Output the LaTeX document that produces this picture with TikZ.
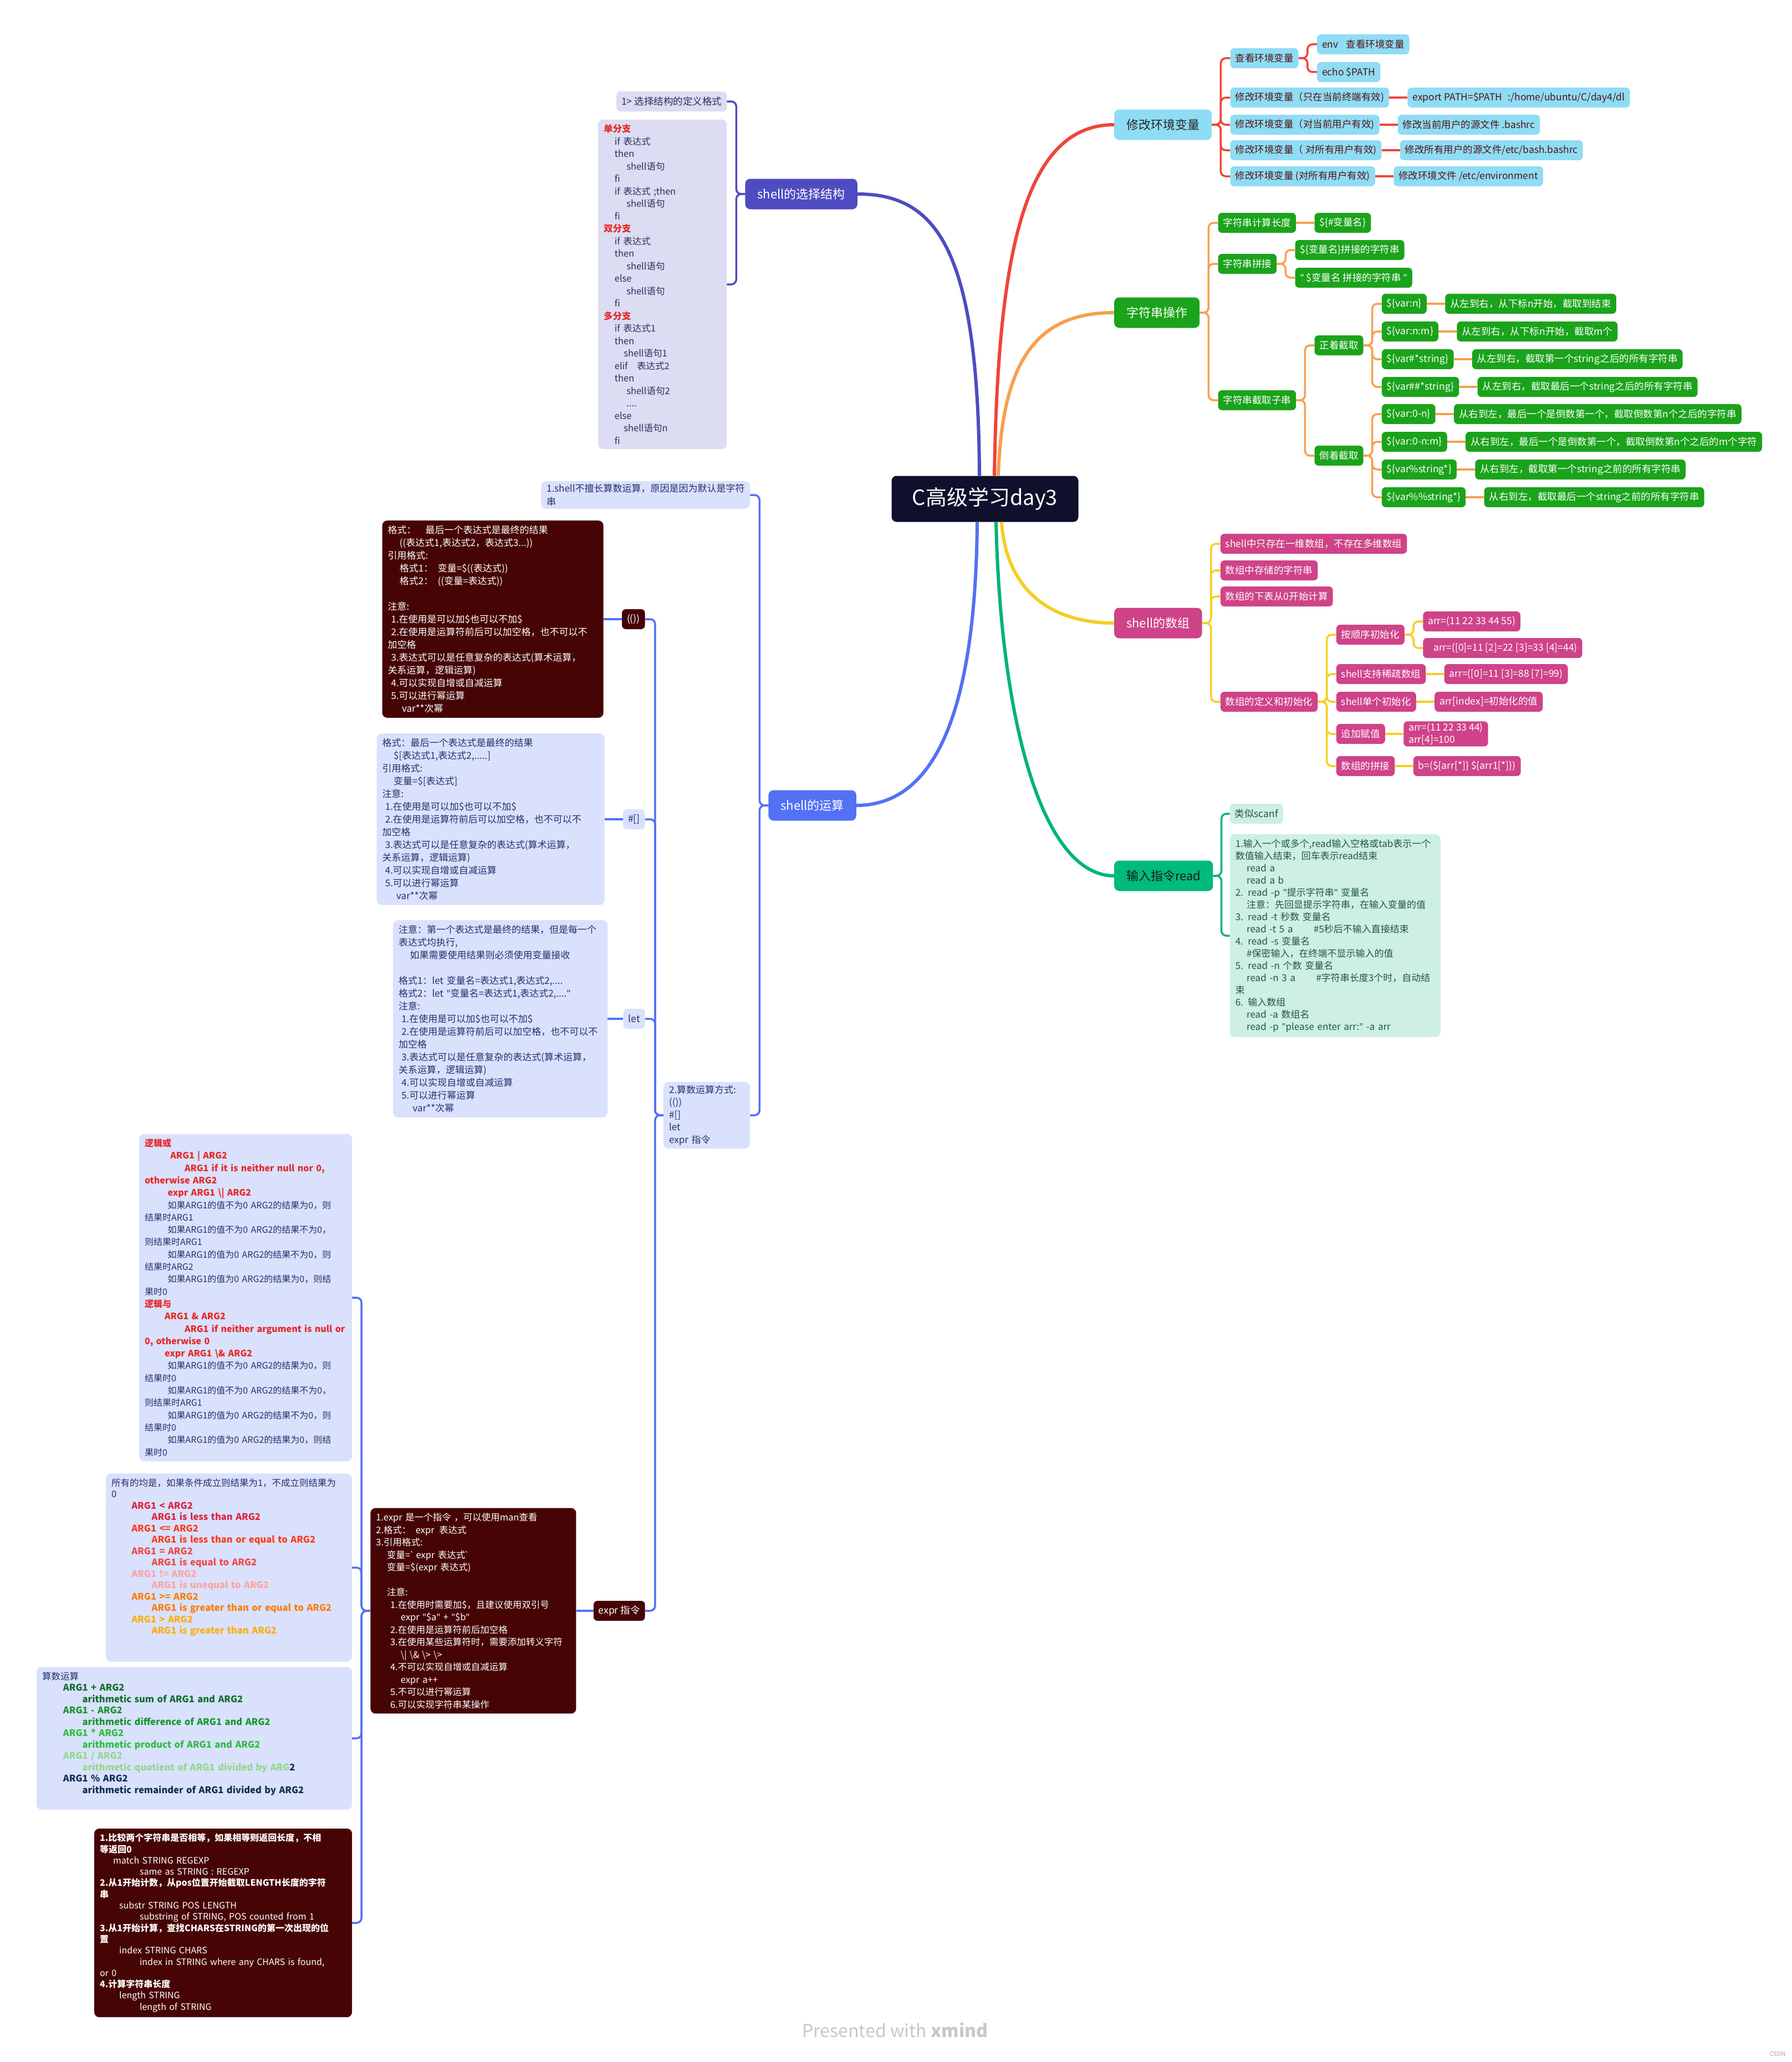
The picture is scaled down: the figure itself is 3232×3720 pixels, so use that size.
\documentclass[tikz,border=0pt]{standalone}
\usepackage{fontspec}
\setmainfont{Noto Sans CJK SC}
\newfontfamily\quotefont{Noto Sans}
\usepackage{xcolor}
\usepackage{tikz}
\usetikzlibrary{positioning}
\definecolor{rootnavy}{RGB}{14,16,44}
\definecolor{envred}{RGB}{240,68,56}
\definecolor{envcyan}{RGB}{143,220,245}
\definecolor{envink}{RGB}{80,20,20}
\definecolor{strorange}{RGB}{247,160,78}
\definecolor{strgreen}{RGB}{27,163,27}
\definecolor{arryellow}{RGB}{245,207,35}
\definecolor{arrpink}{RGB}{207,67,136}
\definecolor{readteal}{RGB}{0,180,118}
\definecolor{readgreen}{RGB}{0,187,122}
\definecolor{readmint}{RGB}{205,240,227}
\definecolor{readink}{RGB}{35,85,68}
\definecolor{selindigo}{RGB}{78,76,192}
\definecolor{sellav}{RGB}{220,220,242}
\definecolor{selink}{RGB}{45,45,95}
\definecolor{calcblue}{RGB}{82,113,245}
\definecolor{calclight}{RGB}{217,225,252}
\definecolor{calcink}{RGB}{38,48,110}
\definecolor{darkmaroon}{RGB}{70,4,4}
\definecolor{hotred}{RGB}{232,38,38}
\definecolor{cmpa}{RGB}{224,34,62}
\definecolor{cmpb}{RGB}{255,58,25}
\definecolor{cmpc}{RGB}{240,72,72}
\definecolor{cmpd}{RGB}{255,162,162}
\definecolor{cmpe}{RGB}{255,122,0}
\definecolor{cmpf}{RGB}{255,172,0}
\definecolor{arga}{RGB}{12,110,40}
\definecolor{argb}{RGB}{22,150,45}
\definecolor{argc}{RGB}{45,190,60}
\definecolor{argd}{RGB}{145,215,140}
\definecolor{arge}{RGB}{18,45,80}
\definecolor{creditgray}{RGB}{200,200,200}
\newcommand{\myind}[1]{\hspace*{#1em}}
\newcommand{\redb}[1]{{\color{hotred}\bfseries #1}}
\newcommand{\cbf}[2]{{\color{#1}\bfseries #2}}
\newcommand{\dq}{{\quotefont"}}
\newcommand{\bq}{{\quotefont\textasciigrave}}
\tikzset{
  rootnode/.style={
    rectangle,
    rounded corners=9pt,
    fill=rootnavy,
    text=white,
    minimum width=337pt,
    minimum height=83pt,
    font=\fontsize{38}{44}\selectfont
  },
  topicbox/.style={
    rectangle,
    rounded corners=9pt,
    minimum height=55pt,
    inner xsep=22pt,
    font=\fontsize{22}{26}\selectfont
  },
  leafbox/.style={
    rectangle,
    rounded corners=7pt,
    align=left,
    minimum height=36pt,
    inner xsep=9pt,
    inner ysep=3pt,
    font=\fontsize{17.5}{22}\selectfont
  },
  notebox/.style={
    rectangle,
    rounded corners=9pt,
    align=left,
    inner xsep=10pt,
    inner ysep=9pt
  },
  envtopic/.style={topicbox, fill=envcyan, text=black!85},
  envleaf/.style={leafbox, fill=envcyan, text=envink},
  strtopic/.style={topicbox, fill=strgreen, text=white},
  strleaf/.style={leafbox, fill=strgreen, text=white},
  arrtopic/.style={topicbox, fill=arrpink, text=white},
  arrleaf/.style={leafbox, fill=arrpink, text=white},
  readtopic/.style={topicbox, fill=readgreen, text=black!90},
  readleaf/.style={leafbox, fill=readmint, text=readink},
  seltopic/.style={topicbox, fill=selindigo, text=white},
  selleaf/.style={leafbox, fill=sellav, text=selink},
  calctopic/.style={topicbox, fill=calcblue, text=white},
  calcleaf/.style={leafbox, fill=calclight, text=calcink},
  calcdarkleaf/.style={leafbox, fill=darkmaroon, text=white},
  trunk/.style={line width=6pt},
  twig/.style={line width=3.5pt, rounded corners=9pt}
}

\begin{document}
\begin{tikzpicture}[x=1pt, y=-1pt, node distance=33pt]
\useasboundingbox (0,0) rectangle (3232,3720);

\node[rootnode] (root) at (1777,900) {C高级学习day3};

% 修改环境变量
\node[envtopic, anchor=west] (env) at (2010,225) {修改环境变量};
\node[envleaf, right=of env, yshift=120pt] (envview) {查看环境变量};
\node[envleaf, right=of envview, yshift=25pt] (envcmd) {env\hspace{14pt}查看环境变量};
\node[envleaf, right=of envview, yshift=-25pt] (envecho) {echo \$PATH};
\node[envleaf, right=of env, yshift=49pt] (envtmp) {修改环境变量（只在当前终端有效)};
\node[envleaf, right=of envtmp] (valtmp) {export PATH=\$PATH\hspace{10pt}:/home/ubuntu/C/day4/dl};
\node[envleaf, right=of env] (envuser) {修改环境变量（对当前用户有效)};
\node[envleaf, right=of envuser] (valuser) {修改当前用户的源文件 .bashrc};
\node[envleaf, right=of env, yshift=-46pt] (envall) {修改环境变量（ 对所有用户有效)};
\node[envleaf, right=of envall] (valall) {修改所有用户的源文件/etc/bash.bashrc};
\node[envleaf, right=of env, yshift=-93pt] (envsys) {修改环境变量 (对所有用户有效)};
\node[envleaf, right=of envsys] (valsys) {修改环境文件 /etc/environment};

\draw[trunk, envred] ([xshift=17pt]root.north) .. controls (1800,450) and (1850,225) .. (env.west);
\foreach \k in {envview,envtmp,envuser,envall,envsys}
  \draw[twig, envred] (env.east) -- ++(16,0) |- (\k.west);
\foreach \k in {envcmd,envecho}
  \draw[twig, envred] (envview.east) -- ++(16,0) |- (\k.west);
\foreach \k in {tmp,user,all,sys}
  \draw[twig, envred] (env\k.east) -- (val\k.west);

% 字符串操作
\node[strtopic, anchor=west] (str) at (2010,564) {字符串操作};
\node[strleaf, right=of str, yshift=162pt] (strlen) {字符串计算长度};
\node[strleaf, right=of strlen] (strlenx) {\$\{\#变量名\}};
\node[strleaf, right=of str, yshift=88pt] (strcat) {字符串拼接};
\node[strleaf, right=of strcat, yshift=25pt] (strcat1) {\$\{变量名\}拼接的字符串};
\node[strleaf, right=of strcat, yshift=-25pt] (strcat2) {\dq{} \$变量名 拼接的字符串 \dq};
\node[strleaf, right=of str, yshift=-158pt] (strsub) {字符串截取子串};
\node[strleaf, right=of strsub, yshift=99pt] (fwd) {正着截取};
\node[strleaf, right=of strsub, yshift=-100pt] (bwd) {倒着截取};
\node[strleaf, right=of fwd, yshift=75pt] (fwd1) {\$\{var:n\}};
\node[strleaf, right=of fwd1] (fwdx1) {从左到右，从下标n开始，截取到结束};
\node[strleaf, right=of fwd, yshift=25pt] (fwd2) {\$\{var:n:m\}};
\node[strleaf, right=of fwd2] (fwdx2) {从左到右，从下标n开始，截取m个};
\node[strleaf, right=of fwd, yshift=-25pt] (fwd3) {\$\{var\#*string\}};
\node[strleaf, right=of fwd3] (fwdx3) {从左到右，截取第一个string之后的所有字符串};
\node[strleaf, right=of fwd, yshift=-75pt] (fwd4) {\$\{var\#\#*string\}};
\node[strleaf, right=of fwd4] (fwdx4) {从左到右，截取最后一个string之后的所有字符串};
\node[strleaf, right=of bwd, yshift=75pt] (bwd1) {\$\{var:0-n\}};
\node[strleaf, right=of bwd1] (bwdx1) {从右到左，最后一个是倒数第一个，截取倒数第n个之后的字符串};
\node[strleaf, right=of bwd, yshift=25pt] (bwd2) {\$\{var:0-n:m\}};
\node[strleaf, right=of bwd2] (bwdx2) {从右到左，最后一个是倒数第一个，截取倒数第n个之后的m个字符};
\node[strleaf, right=of bwd, yshift=-25pt] (bwd3) {\$\{var\%string*\}};
\node[strleaf, right=of bwd3] (bwdx3) {从右到左，截取第一个string之前的所有字符串};
\node[strleaf, right=of bwd, yshift=-75pt] (bwd4) {\$\{var\%\%string*\}};
\node[strleaf, right=of bwd4] (bwdx4) {从右到左，截取最后一个string之前的所有字符串};

\draw[trunk, strorange] ([xshift=24pt]root.north) .. controls (1808,650) and (1870,564) .. (str.west);
\foreach \k in {strlen,strcat,strsub}
  \draw[twig, strorange] (str.east) -- ++(16,0) |- (\k.west);
\draw[twig, strorange] (strlen.east) -- (strlenx.west);
\foreach \k in {strcat1,strcat2}
  \draw[twig, strorange] (strcat.east) -- ++(16,0) |- (\k.west);
\foreach \k in {fwd,bwd}
  \draw[twig, strorange] (strsub.east) -- ++(16,0) |- (\k.west);
\foreach \k in {1,...,4} {
  \draw[twig, strorange] (fwd.east) -- ++(16,0) |- (fwd\k.west);
  \draw[twig, strorange] (fwd\k.east) -- (fwdx\k.west);
  \draw[twig, strorange] (bwd.east) -- ++(16,0) |- (bwd\k.west);
  \draw[twig, strorange] (bwd\k.east) -- (bwdx\k.west);
}

% shell的数组
\node[arrtopic, anchor=west] (arr) at (2010,1124) {shell的数组};
\node[arrleaf, right=of arr, yshift=143pt] (arr1) {shell中只存在一维数组，不存在多维数组};
\node[arrleaf, right=of arr, yshift=95pt] (arr2) {数组中存储的字符串};
\node[arrleaf, right=of arr, yshift=48pt] (arr3) {数组的下表从0开始计算};
\node[arrleaf, right=of arr, yshift=-142pt] (arrdef) {数组的定义和初始化};
\node[arrleaf, right=of arrdef, yshift=121pt] (arrseq) {按顺序初始化};
\node[arrleaf, right=of arrseq, yshift=24pt] (arrseq1) {arr=(11 22 33 44 55)};
\node[arrleaf, right=of arrseq, yshift=-24pt] (arrseq2) {\hspace{10pt}arr=([0]=11 [2]=22 [3]=33 [4]=44)};
\node[arrleaf, right=of arrdef, yshift=50pt] (arrsparse) {shell支持稀疏数组};
\node[arrleaf, right=of arrsparse] (arrsparsex) {arr=([0]=11 [3]=88 [7]=99)};
\node[arrleaf, right=of arrdef] (arrone) {shell单个初始化};
\node[arrleaf, right=of arrone] (arronex) {arr[index]=初始化的值};
\node[arrleaf, right=of arrdef, yshift=-58pt] (arradd) {追加赋值};
\node[arrleaf, right=of arradd] (arraddx) {arr=(11 22 33 44)\\arr[4]=100};
\node[arrleaf, right=of arrdef, yshift=-116pt] (arrjoin) {数组的拼接};
\node[arrleaf, right=of arrjoin] (arrjoinx) {b=(\$\{arr[*]\} \$\{arr1[*]\})};

\draw[trunk, arryellow] ([xshift=30pt]root.south) .. controls (1815,1060) and (1890,1124) .. (arr.west);
\foreach \k in {arr1,arr2,arr3,arrdef}
  \draw[twig, arryellow] (arr.east) -- ++(16,0) |- (\k.west);
\foreach \k in {arrseq,arrsparse,arrone,arradd,arrjoin}
  \draw[twig, arryellow] (arrdef.east) -- ++(16,0) |- (\k.west);
\foreach \k in {arrseq1,arrseq2}
  \draw[twig, arryellow] (arrseq.east) -- ++(16,0) |- (\k.west);
\foreach \k in {arrsparse,arrone,arradd,arrjoin}
  \draw[twig, arryellow] (\k.east) -- (\k x.west);

% 输入指令read
\node[readtopic, anchor=west] (rd) at (2010,1580) {输入指令read};
\node[readleaf, right=30pt of rd, yshift=112pt] (scanf) {类似scanf};
\node[notebox, fill=readmint, text=readink, right=30pt of rd, yshift=-108pt, text width=360pt, font=\fontsize{17}{22}\selectfont] (readbox) {1.输入一个或多个,read输入空格或tab表示一个\\
数值输入结束，回车表示read结束\\
\myind{1.2}read a\\
\myind{1.2}read a b\\
2.\myind{0.5}read -p \dq 提示字符串\dq{} 变量名\\
\myind{1.2}注意：先回显提示字符串，在输入变量的值\\
3.\myind{0.5}read -t 秒数 变量名\\
\myind{1.2}read -t 5 a\myind{2.2}\#5秒后不输入直接结束\\
4.\myind{0.5}read -s 变量名\\
\myind{1.2}\#保密输入，在终端不显示输入的值\\
5.\myind{0.5}read -n 个数 变量名\\
\myind{1.2}read -n 3 a\myind{2.2}\#字符串长度3个时，自动结\\
束\\
6.\myind{0.5}输入数组\\
\myind{1.2}read -a 数组名\\
\myind{1.2}read -p \dq please enter arr:\dq{} -a arr};

\draw[trunk, readteal] ([xshift=20pt]root.south) .. controls (1805,1300) and (1880,1580) .. (rd.west);
\foreach \k in {scanf,readbox}
  \draw[twig, readteal] (rd.east) -- ++(15,0) |- (\k.west);

% shell的选择结构
\node[seltopic, anchor=east] (sel) at (1547,350) {shell的选择结构};
\node[selleaf, left=of sel, yshift=167pt] (seldef) {1> 选择结构的定义格式};
\node[notebox, fill=sellav, text=selink, left=of sel, yshift=-163pt, text width=212pt, font=\fontsize{16.5}{22.5}\selectfont] (selbox) {\redb{单分支}\\
\myind{1.2}if 表达式\\
\myind{1.2}then\\
\myind{2.5}shell语句\\
\myind{1.2}fi\\
\myind{1.2}if 表达式 ;then\\
\myind{2.5}shell语句\\
\myind{1.2}fi\\
\redb{双分支}\\
\myind{1.2}if 表达式\\
\myind{1.2}then\\
\myind{2.5}shell语句\\
\myind{1.2}else\\
\myind{2.5}shell语句\\
\myind{1.2}fi\\
\redb{多分支}\\
\myind{1.2}if 表达式1\\
\myind{1.2}then\\
\myind{2.2}shell语句1\\
\myind{1.2}elif\myind{1}表达式2\\
\myind{1.2}then\\
\myind{2.5}shell语句2\\
\myind{2.5}....\\
\myind{1.2}else\\
\myind{2.2}shell语句n\\
\myind{1.2}fi};

\draw[trunk, selindigo] ([xshift=-10pt]root.north) .. controls (1765,450) and (1690,350) .. (sel.east);
\foreach \k in {seldef,selbox}
  \draw[twig, selindigo] (sel.west) -- ++(-16,0) |- (\k.east);

% shell的运算
\node[calctopic, anchor=east] (calc) at (1545,1453) {shell的运算};
\node[notebox, fill=calclight, text=calcink, left=of calc, yshift=560pt, text width=357pt, inner ysep=5pt, font=\fontsize{17}{24}\selectfont] (calcnote) {1.shell不擅长算数运算，原因是因为默认是字符\\串};
\node[notebox, fill=calclight, text=calcink, left=of calc, yshift=-559pt, text width=136pt, inner ysep=6pt, font=\fontsize{17}{22.5}\selectfont] (calcway) {2.算数运算方式:\\(())\\\#[]\\let\\expr 指令};
\node[calcdarkleaf, left=of calcway, yshift=895pt] (paren) {(())};
\node[calcleaf, left=of calcway, yshift=534pt] (brack) {\#[]};
\node[calcleaf, left=of calcway, yshift=174pt] (letcmd) {let};
\node[calcdarkleaf, left=of calcway, yshift=-894pt] (exprcmd) {expr 指令};

\node[notebox, fill=darkmaroon, text=white, left=of paren, text width=379pt, font=\fontsize{17}{23}\selectfont] (parenbox) {格式：\myind{1}最后一个表达式是最终的结果\\
\myind{1.25}((表达式1,表达式2，表达式3...))\\
引用格式:\\
\myind{1.25}格式1：\myind{0.5}变量=\$((表达式))\\
\myind{1.25}格式2：\myind{0.5}((变量=表达式))\\[23pt]
注意:\\
\myind{0.35}1.在使用是可以加\$也可以不加\$\\
\myind{0.35}2.在使用是运算符前后可以加空格，也不可以不\\
加空格\\
\myind{0.35}3.表达式可以是任意复杂的表达式(算术运算，\\
关系运算，逻辑运算)\\
\myind{0.35}4.可以实现自增或自减运算\\
\myind{0.35}5.可以进行幂运算\\
\myind{1.5}var**次幂};

\node[notebox, fill=calclight, text=calcink, left=of brack, text width=391pt, font=\fontsize{17}{23}\selectfont] (brackbox) {格式：最后一个表达式是最终的结果\\
\myind{1.2}\$[表达式1,表达式2,.....]\\
引用格式:\\
\myind{1.2}变量=\$[表达式]\\
注意:\\
\myind{0.3}1.在使用是可以加\$也可以不加\$\\
\myind{0.3}2.在使用是运算符前后可以加空格，也不可以不\\
加空格\\
\myind{0.3}3.表达式可以是任意复杂的表达式(算术运算，\\
关系运算，逻辑运算)\\
\myind{0.3}4.可以实现自增或自减运算\\
\myind{0.3}5.可以进行幂运算\\
\myind{1.5}var**次幂};

\node[notebox, fill=calclight, text=calcink, left=28pt of letcmd, text width=367pt, font=\fontsize{17}{23}\selectfont] (letcmdbox) {注意：第一个表达式是最终的结果，但是每一个\\
表达式均执行,\\
\myind{1.2}如果需要使用结果则必须使用变量接收\\[23pt]
格式1：let 变量名=表达式1,表达式2,....\\
格式2：let \dq 变量名=表达式1,表达式2,....\dq\\
注意:\\
\myind{0.3}1.在使用是可以加\$也可以不加\$\\
\myind{0.3}2.在使用是运算符前后可以加空格，也不可以不\\
加空格\\
\myind{0.3}3.表达式可以是任意复杂的表达式(算术运算，\\
关系运算，逻辑运算)\\
\myind{0.3}4.可以实现自增或自减运算\\
\myind{0.3}5.可以进行幂运算\\
\myind{1.5}var**次幂};

\node[notebox, fill=darkmaroon, text=white, left=31pt of exprcmd, text width=351pt, font=\fontsize{16.5}{22.5}\selectfont] (exprcmdbox) {1.expr 是一个指令 ，可以使用man查看\\
2.格式：\myind{0.5}expr\myind{0.5}表达式\\
3.引用格式:\\
\myind{1.2}变量=\bq{} expr 表达式\bq\\
\myind{1.2}变量=\$(expr 表达式)\\[22.5pt]
\myind{1.2}注意:\\
\myind{1.55}1.在使用时需要加\$，且建议使用双引号\\
\myind{2.7}expr \dq\$a\dq{} + \dq\$b\dq\\
\myind{1.55}2.在使用是运算符前后加空格\\
\myind{1.55}3.在使用某些运算符时，需要添加转义字符\\
\myind{2.7}\textbackslash|\myind{0.3}\textbackslash\&\myind{0.3}\textbackslash>\myind{0.3}\textbackslash>\\
\myind{1.55}4.不可以实现自增或自减运算\\
\myind{2.7}expr a++\\
\myind{1.55}5.不可以进行幂运算\\
\myind{1.55}6.可以实现字符串某操作};

\node[notebox, fill=calclight, text=calcink, left=of exprcmdbox, yshift=565pt, text width=364pt, font=\fontsize{16}{22.3}\selectfont] (orbox) {\redb{逻辑或}\\
\myind{2.9}\redb{ARG1 | ARG2}\\
\myind{4.5}\redb{ARG1 if it is neither null nor 0,}\\
\redb{otherwise ARG2}\\
\myind{2.6}\redb{expr ARG1 \textbackslash| ARG2}\\
\myind{2.6}如果ARG1的值不为0 ARG2的结果为0，则\\
结果时ARG1\\
\myind{2.6}如果ARG1的值不为0 ARG2的结果不为0，\\
则结果时ARG1\\
\myind{2.6}如果ARG1的值为0 ARG2的结果不为0，则\\
结果时ARG2\\
\myind{2.6}如果ARG1的值为0 ARG2的结果为0，则结\\
果时0\\
\redb{逻辑与}\\
\myind{2.25}\redb{ARG1 \& ARG2}\\
\myind{4.5}\redb{ARG1 if neither argument is null or}\\
\redb{0, otherwise 0}\\
\myind{2.25}\redb{expr ARG1 \textbackslash\& ARG2}\\
\myind{2.6}如果ARG1的值不为0 ARG2的结果为0，则\\
结果时0\\
\myind{2.6}如果ARG1的值不为0 ARG2的结果不为0，\\
则结果时ARG1\\
\myind{2.6}如果ARG1的值为0 ARG2的结果不为0，则\\
结果时0\\
\myind{2.6}如果ARG1的值为0 ARG2的结果为0，则结\\
果时0};

\node[notebox, fill=calclight, text=calcink, left=of exprcmdbox, yshift=78pt, text width=424pt, font=\fontsize{16.5}{20.5}\selectfont] (cmpbox) {所有的均是，如果条件成立则结果为1，不成立则结果为\\
0\\
\myind{2.2}\cbf{cmpa}{ARG1 < ARG2}\\
\myind{4.4}\cbf{cmpa}{ARG1 is less than ARG2}\\
\myind{2.2}\cbf{cmpb}{ARG1 <= ARG2}\\
\myind{4.4}\cbf{cmpb}{ARG1 is less than or equal to ARG2}\\
\myind{2.2}\cbf{cmpc}{ARG1 = ARG2}\\
\myind{4.4}\cbf{cmpc}{ARG1 is equal to ARG2}\\
\myind{2.2}\cbf{cmpd}{ARG1 != ARG2}\\
\myind{4.4}\cbf{cmpd}{ARG1 is unequal to ARG2}\\
\myind{2.2}\cbf{cmpe}{ARG1 >= ARG2}\\
\myind{4.4}\cbf{cmpe}{ARG1 is greater than or equal to ARG2}\\
\myind{2.2}\cbf{cmpf}{ARG1 > ARG2}\\
\myind{4.4}\cbf{cmpf}{ARG1 is greater than ARG2}\\
\mbox{}\\
\mbox{}};

\node[notebox, fill=calclight, text=calcink, left=of exprcmdbox, yshift=-230pt, text width=549pt, font=\fontsize{16.5}{20.5}\selectfont] (arithbox) {算数运算\\
\myind{2.3}\cbf{arga}{ARG1 + ARG2}\\
\myind{4.4}\cbf{arga}{arithmetic sum of ARG1 and ARG2}\\
\myind{2.3}\cbf{argb}{ARG1 - ARG2}\\
\myind{4.4}\cbf{argb}{arithmetic difference of ARG1 and ARG2}\\
\myind{2.3}\cbf{argc}{ARG1 * ARG2}\\
\myind{4.4}\cbf{argc}{arithmetic product of ARG1 and ARG2}\\
\myind{2.3}\cbf{argd}{ARG1 / ARG2}\\
\myind{4.4}\cbf{argd}{arithmetic quotient of ARG1 divided by ARG}\cbf{arge}{2}\\
\myind{2.3}\cbf{arge}{ARG1 \% ARG2}\\
\myind{4.4}\cbf{arge}{arithmetic remainder of ARG1 divided by ARG2}\\
\mbox{}};

\node[notebox, fill=darkmaroon, text=white, left=of exprcmdbox, yshift=-563pt, text width=445pt, font=\fontsize{16}{20.3}\selectfont] (strbox) {\textbf{1.比较两个字符串是否相等，如果相等则返回长度，不相}\\
\textbf{等返回0}\\
\myind{1.5}match STRING REGEXP\\
\myind{4.5}same as STRING : REGEXP\\
\textbf{2.从1开始计数，从pos位置开始截取LENGTH长度的字符}\\
\textbf{串}\\
\myind{2.2}substr STRING POS LENGTH\\
\myind{4.5}substring of STRING, POS counted from 1\\
\textbf{3.从1开始计算，查找CHARS在STRING的第一次出现的位}\\
\textbf{置}\\
\myind{2.2}index STRING CHARS\\
\myind{4.5}index in STRING where any CHARS is found,\\
or 0\\
\textbf{4.计算字符串长度}\\
\myind{2.2}length STRING\\
\myind{4.5}length of STRING};

\draw[trunk, calcblue] ([xshift=-14pt]root.south) .. controls (1760,1300) and (1680,1453) .. (calc.east);
\foreach \k in {calcnote,calcway}
  \draw[twig, calcblue] (calc.west) -- ++(-16,0) |- (\k.east);
\foreach \k in {paren,brack,letcmd,exprcmd}
  \draw[twig, calcblue] (calcway.west) -- ++(-15,0) |- (\k.east);
\foreach \k in {paren,brack,letcmd,exprcmd}
  \draw[twig, calcblue] (\k.west) -- (\k box.east);
\foreach \k in {orbox,cmpbox,arithbox,strbox}
  \draw[twig, calcblue] (exprcmdbox.west) -- ++(-16,0) |- (\k.east);

\node[font=\fontsize{32}{38}\selectfont, text=creditgray] (credit) at (1615,3662) {Presented with \textbf{xmind}};
\node[font=\fontsize{11}{13}\selectfont, text=black!35, anchor=east] (mark) at (3225,3705) {CSDN};
\end{tikzpicture}
\end{document}
